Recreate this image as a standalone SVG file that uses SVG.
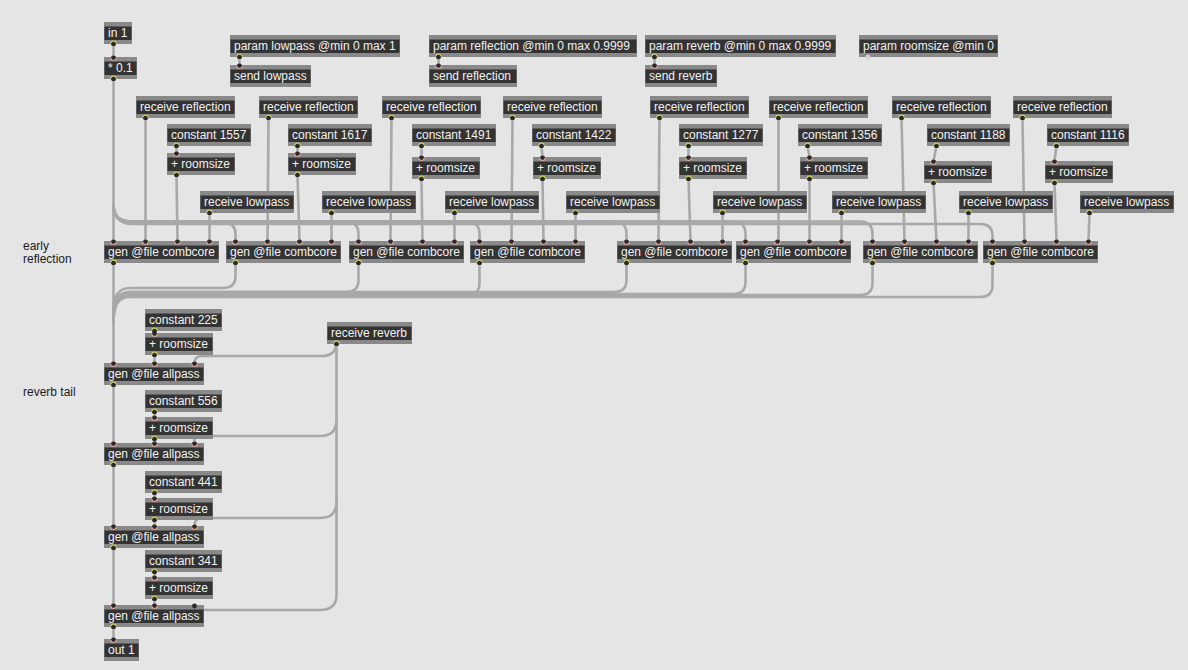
<svg xmlns="http://www.w3.org/2000/svg" width="1188" height="670" viewBox="0 0 1188 670">
<style>
text{font-family:"Liberation Sans",Arial,sans-serif;font-size:12px}
.f{fill:#898989}
.d{fill:#333}
.n text{fill:#f2f2f2}
.l{fill:#1c1c1c}
#wires path{fill:none;stroke:#a8a8a8;stroke-width:2.6;stroke-linecap:round}
</style>
<defs>
<g id="o"><circle r="2.600" fill="#2a2a2a"/><path d="M-2.700,0.300A2.700,2.700 0 0 1 2.700,0.300" fill="none" stroke="#c9cc55" stroke-width="1.100"/></g>
<g id="i"><circle r="2.600" fill="#2a2a2a"/><path d="M-2.700,-0.300A2.700,2.700 0 0 0 2.700,-0.300" fill="none" stroke="#e8a595" stroke-width="1.100"/></g>
</defs>
<rect width="1188" height="670" fill="#e5e5e5"/>
<g id="wires">
<path d="M113.5,44V58"/>
<path d="M239.5,57V66"/><path d="M438.5,57V66"/><path d="M654.5,57V66"/>
<path d="M113.5,79V241"/>
<path d="M113.5,205C113.5,217 120,223 132,223H224Q235.5,223 235.5,234V241"/>
<path d="M113.5,205C113.5,217 120,222 132,222H347Q358.5,222 358.5,234V241"/>
<path d="M113.5,205C113.5,217 120,222 132,222H468Q479.5,222 479.5,234V241"/>
<path d="M113.5,205C113.5,217 120,221.5 132,221.5H614Q626.5,221.5 626.5,234V241"/>
<path d="M113.5,205C113.5,217 120,221.5 132,221.5H733Q745.5,221.5 745.5,234V241"/>
<path d="M113.5,205C113.5,217 120,221.5 132,221.5H860Q872.5,221.5 872.5,234V241"/>
<path d="M113.5,205C113.5,217 120,224 132,224H980Q992.5,224 992.5,236V241"/>
<path d="M113.5,263V363"/>
<path d="M235.5,263V276Q235.5,288 223,288H130C118,288 113.5,296 113.5,312"/>
<path d="M358.5,263V280Q358.5,292 346,292H130C118,292 113.5,300 113.5,316"/>
<path d="M479.5,263V283Q479.5,295 467,295H130C118,295 113.5,302 113.5,320"/>
<path d="M626.5,263V280Q626.5,292 614,292H130C118,292 113.5,300 113.5,318"/>
<path d="M745.5,263V282Q745.5,294 733,294H130C118,294 113.5,302 113.5,320"/>
<path d="M872.5,263V283Q872.5,295 860,295H130C118,295 113.5,303 113.5,322"/>
<path d="M992.5,263V285Q992.5,297 980,297H130C118,297 113.5,305 113.5,324"/>
<path d="M145.5,118V241"/><path d="M268.5,118L267.5,241"/><path d="M391.5,118L390.5,241"/><path d="M512.5,118L511.5,241"/><path d="M659.5,118L658.5,241"/><path d="M778.5,118V241"/><path d="M901.5,118L904.5,241"/><path d="M1022.5,118L1024.5,241"/>
<path d="M176.5,146V153"/><path d="M297.5,146V153"/><path d="M421.5,146V157"/><path d="M541.5,146L542.5,157"/><path d="M688.5,146V157"/><path d="M807.5,146L809.5,157"/><path d="M936.5,146L933.5,161"/><path d="M1056.5,146L1054.5,161"/>
<path d="M176.5,175L177.5,241"/><path d="M297.5,175L299.5,241"/><path d="M421.5,179L422.5,241"/><path d="M542.5,179L543.5,241"/><path d="M688.5,179L690.5,241"/><path d="M809.5,179V241"/><path d="M933.5,183L936.5,241"/><path d="M1054.5,183L1056.5,241"/>
<path d="M209.5,213V241"/><path d="M331.5,213V241"/><path d="M454.5,213V241"/><path d="M575.5,213V241"/><path d="M722.5,213V241"/><path d="M841.5,213V241"/><path d="M968.5,213V241"/><path d="M1089.5,213L1088.5,241"/>
<path d="M154.5,331V333"/><path d="M154.5,355V363"/>
<path d="M154.5,412V417"/><path d="M154.5,439V443"/>
<path d="M154.5,493V498"/><path d="M154.5,520V526"/>
<path d="M154.5,572V577"/><path d="M154.5,599V605"/>
<path d="M113.5,385V443"/><path d="M113.5,465V526"/><path d="M113.5,548V605"/><path d="M113.5,627V639"/>
<path d="M336.5,344V595Q336.5,610 320,610H205"/>
<path d="M336.5,344Q335,356 322,356H202Q194.5,356 194.5,363"/>
<path d="M336.5,420Q336.5,436 320,436H194.5V443"/>
<path d="M336.5,502Q336.5,518 320,518H202Q194.5,518 194.5,526"/>
</g>
<g id="nodes" class="n">
<g id="in1"><rect class="f" x="104" y="22" width="28" height="22"/><rect class="d" x="104.500" y="26.500" width="27" height="13.500"/><text x="108" y="37">in 1</text></g>
<g id="mul"><rect class="f" x="104" y="57" width="33" height="22"/><rect class="d" x="104.500" y="61.500" width="32" height="13.500"/><text x="108" y="72">* 0.1</text></g>
<g id="plow"><rect class="f" x="230" y="35" width="170" height="22"/><rect class="d" x="230.500" y="39.500" width="169" height="13.500"/><text x="234" y="50">param lowpass @min 0 max 1</text></g>
<g id="slow"><rect class="f" x="230" y="65" width="81" height="22"/><rect class="d" x="230.500" y="69.500" width="80" height="13.500"/><text x="234" y="80">send lowpass</text></g>
<g id="pref"><rect class="f" x="429" y="35" width="208" height="22"/><rect class="d" x="429.500" y="39.500" width="207" height="13.500"/><text x="433" y="50">param reflection @min 0 max 0.9999</text></g>
<g id="sref"><rect class="f" x="429" y="65" width="88" height="22"/><rect class="d" x="429.500" y="69.500" width="87" height="13.500"/><text x="433" y="80">send reflection</text></g>
<g id="prev"><rect class="f" x="645" y="35" width="191" height="22"/><rect class="d" x="645.500" y="39.500" width="190" height="13.500"/><text x="649" y="50">param reverb @min 0 max 0.9999</text></g>
<g id="srev"><rect class="f" x="645" y="65" width="72" height="22"/><rect class="d" x="645.500" y="69.500" width="71" height="13.500"/><text x="649" y="80">send reverb</text></g>
<g id="proom"><rect class="f" x="859" y="35" width="139" height="22"/><rect class="d" x="859.500" y="39.500" width="138" height="13.500"/><text x="863" y="50">param roomsize @min 0</text></g>
<g id="rr1"><rect class="f" x="136" y="96" width="99" height="22"/><rect class="d" x="136.500" y="100.500" width="98" height="13.500"/><text x="140" y="111">receive reflection</text></g>
<g id="rr2"><rect class="f" x="259" y="96" width="99" height="22"/><rect class="d" x="259.500" y="100.500" width="98" height="13.500"/><text x="263" y="111">receive reflection</text></g>
<g id="rr3"><rect class="f" x="382" y="96" width="99" height="22"/><rect class="d" x="382.500" y="100.500" width="98" height="13.500"/><text x="386" y="111">receive reflection</text></g>
<g id="rr4"><rect class="f" x="503" y="96" width="99" height="22"/><rect class="d" x="503.500" y="100.500" width="98" height="13.500"/><text x="507" y="111">receive reflection</text></g>
<g id="rr5"><rect class="f" x="650" y="96" width="99" height="22"/><rect class="d" x="650.500" y="100.500" width="98" height="13.500"/><text x="654" y="111">receive reflection</text></g>
<g id="rr6"><rect class="f" x="769" y="96" width="99" height="22"/><rect class="d" x="769.500" y="100.500" width="98" height="13.500"/><text x="773" y="111">receive reflection</text></g>
<g id="rr7"><rect class="f" x="892" y="96" width="99" height="22"/><rect class="d" x="892.500" y="100.500" width="98" height="13.500"/><text x="896" y="111">receive reflection</text></g>
<g id="rr8"><rect class="f" x="1013" y="96" width="99" height="22"/><rect class="d" x="1013.500" y="100.500" width="98" height="13.500"/><text x="1017" y="111">receive reflection</text></g>
<g id="c1"><rect class="f" x="167" y="124" width="84" height="22"/><rect class="d" x="167.500" y="128.500" width="83" height="13.500"/><text x="171" y="139">constant 1557</text></g>
<g id="c2"><rect class="f" x="288" y="124" width="84" height="22"/><rect class="d" x="288.500" y="128.500" width="83" height="13.500"/><text x="292" y="139">constant 1617</text></g>
<g id="c3"><rect class="f" x="412" y="124" width="84" height="22"/><rect class="d" x="412.500" y="128.500" width="83" height="13.500"/><text x="416" y="139">constant 1491</text></g>
<g id="c4"><rect class="f" x="532" y="124" width="84" height="22"/><rect class="d" x="532.500" y="128.500" width="83" height="13.500"/><text x="536" y="139">constant 1422</text></g>
<g id="c5"><rect class="f" x="679" y="124" width="84" height="22"/><rect class="d" x="679.500" y="128.500" width="83" height="13.500"/><text x="683" y="139">constant 1277</text></g>
<g id="c6"><rect class="f" x="798" y="124" width="84" height="22"/><rect class="d" x="798.500" y="128.500" width="83" height="13.500"/><text x="802" y="139">constant 1356</text></g>
<g id="c7"><rect class="f" x="927" y="124" width="83" height="22"/><rect class="d" x="927.500" y="128.500" width="82" height="13.500"/><text x="931" y="139">constant 1188</text></g>
<g id="c8"><rect class="f" x="1047" y="124" width="82" height="22"/><rect class="d" x="1047.500" y="128.500" width="81" height="13.500"/><text x="1051" y="139">constant 1116</text></g>
<g id="a1"><rect class="f" x="167" y="153" width="68" height="22"/><rect class="d" x="167.500" y="157.500" width="67" height="13.500"/><text x="171" y="168">+ roomsize</text></g>
<g id="a2"><rect class="f" x="288" y="153" width="68" height="22"/><rect class="d" x="288.500" y="157.500" width="67" height="13.500"/><text x="292" y="168">+ roomsize</text></g>
<g id="a3"><rect class="f" x="412" y="157" width="68" height="22"/><rect class="d" x="412.500" y="161.500" width="67" height="13.500"/><text x="416" y="172">+ roomsize</text></g>
<g id="a4"><rect class="f" x="533" y="157" width="68" height="22"/><rect class="d" x="533.500" y="161.500" width="67" height="13.500"/><text x="537" y="172">+ roomsize</text></g>
<g id="a5"><rect class="f" x="679" y="157" width="68" height="22"/><rect class="d" x="679.500" y="161.500" width="67" height="13.500"/><text x="683" y="172">+ roomsize</text></g>
<g id="a6"><rect class="f" x="800" y="157" width="68" height="22"/><rect class="d" x="800.500" y="161.500" width="67" height="13.500"/><text x="804" y="172">+ roomsize</text></g>
<g id="a7"><rect class="f" x="924" y="161" width="68" height="22"/><rect class="d" x="924.500" y="165.500" width="67" height="13.500"/><text x="928" y="176">+ roomsize</text></g>
<g id="a8"><rect class="f" x="1045" y="161" width="68" height="22"/><rect class="d" x="1045.500" y="165.500" width="67" height="13.500"/><text x="1049" y="176">+ roomsize</text></g>
<g id="rl1"><rect class="f" x="200" y="191" width="94" height="22"/><rect class="d" x="200.500" y="195.500" width="93" height="13.500"/><text x="204" y="206">receive lowpass</text></g>
<g id="rl2"><rect class="f" x="322" y="191" width="94" height="22"/><rect class="d" x="322.500" y="195.500" width="93" height="13.500"/><text x="326" y="206">receive lowpass</text></g>
<g id="rl3"><rect class="f" x="445" y="191" width="94" height="22"/><rect class="d" x="445.500" y="195.500" width="93" height="13.500"/><text x="449" y="206">receive lowpass</text></g>
<g id="rl4"><rect class="f" x="566" y="191" width="94" height="22"/><rect class="d" x="566.500" y="195.500" width="93" height="13.500"/><text x="570" y="206">receive lowpass</text></g>
<g id="rl5"><rect class="f" x="713" y="191" width="94" height="22"/><rect class="d" x="713.500" y="195.500" width="93" height="13.500"/><text x="717" y="206">receive lowpass</text></g>
<g id="rl6"><rect class="f" x="832" y="191" width="94" height="22"/><rect class="d" x="832.500" y="195.500" width="93" height="13.500"/><text x="836" y="206">receive lowpass</text></g>
<g id="rl7"><rect class="f" x="959" y="191" width="94" height="22"/><rect class="d" x="959.500" y="195.500" width="93" height="13.500"/><text x="963" y="206">receive lowpass</text></g>
<g id="rl8"><rect class="f" x="1080" y="191" width="94" height="22"/><rect class="d" x="1080.500" y="195.500" width="93" height="13.500"/><text x="1084" y="206">receive lowpass</text></g>
<g id="g1"><rect class="f" x="104" y="241" width="115" height="22"/><rect class="d" x="104.500" y="245.500" width="114" height="13.500"/><text x="108" y="256">gen @file combcore</text></g>
<g id="g2"><rect class="f" x="226" y="241" width="115" height="22"/><rect class="d" x="226.500" y="245.500" width="114" height="13.500"/><text x="230" y="256">gen @file combcore</text></g>
<g id="g3"><rect class="f" x="349" y="241" width="115" height="22"/><rect class="d" x="349.500" y="245.500" width="114" height="13.500"/><text x="353" y="256">gen @file combcore</text></g>
<g id="g4"><rect class="f" x="470" y="241" width="115" height="22"/><rect class="d" x="470.500" y="245.500" width="114" height="13.500"/><text x="474" y="256">gen @file combcore</text></g>
<g id="g5"><rect class="f" x="617" y="241" width="115" height="22"/><rect class="d" x="617.500" y="245.500" width="114" height="13.500"/><text x="621" y="256">gen @file combcore</text></g>
<g id="g6"><rect class="f" x="736" y="241" width="115" height="22"/><rect class="d" x="736.500" y="245.500" width="114" height="13.500"/><text x="740" y="256">gen @file combcore</text></g>
<g id="g7"><rect class="f" x="863" y="241" width="115" height="22"/><rect class="d" x="863.500" y="245.500" width="114" height="13.500"/><text x="867" y="256">gen @file combcore</text></g>
<g id="g8"><rect class="f" x="983" y="241" width="115" height="22"/><rect class="d" x="983.500" y="245.500" width="114" height="13.500"/><text x="987" y="256">gen @file combcore</text></g>
<g id="k1"><rect class="f" x="145" y="309" width="77" height="22"/><rect class="d" x="145.500" y="313.500" width="76" height="13.500"/><text x="149" y="324">constant 225</text></g>
<g id="p1"><rect class="f" x="145" y="333" width="68" height="22"/><rect class="d" x="145.500" y="337.500" width="67" height="13.500"/><text x="149" y="348">+ roomsize</text></g>
<g id="rrev"><rect class="f" x="327" y="322" width="85" height="22"/><rect class="d" x="327.500" y="326.500" width="84" height="13.500"/><text x="331" y="337">receive reverb</text></g>
<g id="ap1"><rect class="f" x="104" y="363" width="100" height="22"/><rect class="d" x="104.500" y="367.500" width="99" height="13.500"/><text x="108" y="378">gen @file allpass</text></g>
<g id="k2"><rect class="f" x="145" y="390" width="77" height="22"/><rect class="d" x="145.500" y="394.500" width="76" height="13.500"/><text x="149" y="405">constant 556</text></g>
<g id="p2"><rect class="f" x="145" y="417" width="68" height="22"/><rect class="d" x="145.500" y="421.500" width="67" height="13.500"/><text x="149" y="432">+ roomsize</text></g>
<g id="ap2"><rect class="f" x="104" y="443" width="100" height="22"/><rect class="d" x="104.500" y="447.500" width="99" height="13.500"/><text x="108" y="458">gen @file allpass</text></g>
<g id="k3"><rect class="f" x="145" y="471" width="77" height="22"/><rect class="d" x="145.500" y="475.500" width="76" height="13.500"/><text x="149" y="486">constant 441</text></g>
<g id="p3"><rect class="f" x="145" y="498" width="68" height="22"/><rect class="d" x="145.500" y="502.500" width="67" height="13.500"/><text x="149" y="513">+ roomsize</text></g>
<g id="ap3"><rect class="f" x="104" y="526" width="100" height="22"/><rect class="d" x="104.500" y="530.500" width="99" height="13.500"/><text x="108" y="541">gen @file allpass</text></g>
<g id="k4"><rect class="f" x="145" y="550" width="77" height="22"/><rect class="d" x="145.500" y="554.500" width="76" height="13.500"/><text x="149" y="565">constant 341</text></g>
<g id="p4"><rect class="f" x="145" y="577" width="68" height="22"/><rect class="d" x="145.500" y="581.500" width="67" height="13.500"/><text x="149" y="592">+ roomsize</text></g>
<g id="ap4"><rect class="f" x="104" y="605" width="100" height="22"/><rect class="d" x="104.500" y="609.500" width="99" height="13.500"/><text x="108" y="620">gen @file allpass</text></g>
<g id="out1"><rect class="f" x="104" y="639" width="35" height="22"/><rect class="d" x="104.500" y="643.500" width="34" height="13.500"/><text x="108" y="654">out 1</text></g>
</g>
<g id="ports">
<use href="#o" x="113.500" y="43.500"/><use href="#i" x="113.500" y="58"/><use href="#o" x="113.500" y="78.500"/>
<use href="#o" x="239.500" y="56.500"/><use href="#i" x="239.500" y="66"/><use href="#o" x="438.500" y="56.500"/><use href="#i" x="438.500" y="66"/><use href="#o" x="654.500" y="56.500"/><use href="#i" x="654.500" y="66"/>
<circle cx="868" cy="57" r="2.500" fill="#d2d2d2"/>
<use href="#o" x="145.500" y="117.500"/><use href="#o" x="268.500" y="117.500"/><use href="#o" x="391.500" y="117.500"/><use href="#o" x="512.500" y="117.500"/><use href="#o" x="659.500" y="117.500"/><use href="#o" x="778.500" y="117.500"/><use href="#o" x="901.500" y="117.500"/><use href="#o" x="1022.500" y="117.500"/>
<use href="#o" x="176.500" y="145.500"/><use href="#o" x="297.500" y="145.500"/><use href="#o" x="421.500" y="145.500"/><use href="#o" x="541.500" y="145.500"/><use href="#o" x="688.500" y="145.500"/><use href="#o" x="807.500" y="145.500"/><use href="#o" x="936.500" y="145.500"/><use href="#o" x="1056.500" y="145.500"/>
<use href="#i" x="176.500" y="154"/><use href="#i" x="297.500" y="154"/><use href="#i" x="421.500" y="158"/><use href="#i" x="542.500" y="158"/><use href="#i" x="688.500" y="158"/><use href="#i" x="809.500" y="158"/><use href="#i" x="933.500" y="162"/><use href="#i" x="1054.500" y="162"/>
<use href="#o" x="176.500" y="174.500"/><use href="#o" x="297.500" y="174.500"/><use href="#o" x="421.500" y="178.500"/><use href="#o" x="542.500" y="178.500"/><use href="#o" x="688.500" y="178.500"/><use href="#o" x="809.500" y="178.500"/><use href="#o" x="933.500" y="182.500"/><use href="#o" x="1054.500" y="182.500"/>
<use href="#o" x="209.500" y="212.500"/><use href="#o" x="331.500" y="212.500"/><use href="#o" x="454.500" y="212.500"/><use href="#o" x="575.500" y="212.500"/><use href="#o" x="722.500" y="212.500"/><use href="#o" x="841.500" y="212.500"/><use href="#o" x="968.500" y="212.500"/><use href="#o" x="1089.500" y="212.500"/>
<use href="#i" x="113.500" y="242"/><use href="#i" x="145.500" y="242"/><use href="#i" x="177.500" y="242"/><use href="#i" x="209.500" y="242"/>
<use href="#i" x="235.500" y="242"/><use href="#i" x="267.500" y="242"/><use href="#i" x="299.500" y="242"/><use href="#i" x="331.500" y="242"/>
<use href="#i" x="358.500" y="242"/><use href="#i" x="390.500" y="242"/><use href="#i" x="422.500" y="242"/><use href="#i" x="454.500" y="242"/>
<use href="#i" x="479.500" y="242"/><use href="#i" x="511.500" y="242"/><use href="#i" x="543.500" y="242"/><use href="#i" x="575.500" y="242"/>
<use href="#i" x="626.500" y="242"/><use href="#i" x="658.500" y="242"/><use href="#i" x="690.500" y="242"/><use href="#i" x="722.500" y="242"/>
<use href="#i" x="745.500" y="242"/><use href="#i" x="777.500" y="242"/><use href="#i" x="809.500" y="242"/><use href="#i" x="841.500" y="242"/>
<use href="#i" x="872.500" y="242"/><use href="#i" x="904.500" y="242"/><use href="#i" x="936.500" y="242"/><use href="#i" x="968.500" y="242"/>
<use href="#i" x="992.500" y="242"/><use href="#i" x="1024.500" y="242"/><use href="#i" x="1056.500" y="242"/><use href="#i" x="1088.500" y="242"/>
<use href="#o" x="113.500" y="262.500"/><use href="#o" x="235.500" y="262.500"/><use href="#o" x="358.500" y="262.500"/><use href="#o" x="479.500" y="262.500"/><use href="#o" x="626.500" y="262.500"/><use href="#o" x="745.500" y="262.500"/><use href="#o" x="872.500" y="262.500"/><use href="#o" x="992.500" y="262.500"/>
<use href="#o" x="154.500" y="330.500"/><use href="#i" x="154.500" y="334"/><use href="#o" x="154.500" y="354.500"/><use href="#o" x="336.500" y="343.500"/>
<use href="#i" x="113.500" y="364"/><use href="#i" x="154.500" y="364"/><use href="#i" x="194.500" y="364"/><use href="#o" x="113.500" y="384.500"/>
<use href="#o" x="154.500" y="411.500"/><use href="#i" x="154.500" y="418"/><use href="#o" x="154.500" y="438.500"/>
<use href="#i" x="113.500" y="444"/><use href="#i" x="154.500" y="444"/><use href="#i" x="194.500" y="444"/><use href="#o" x="113.500" y="464.500"/>
<use href="#o" x="154.500" y="492.500"/><use href="#i" x="154.500" y="499"/><use href="#o" x="154.500" y="519.500"/>
<use href="#i" x="113.500" y="527"/><use href="#i" x="154.500" y="527"/><use href="#i" x="194.500" y="527"/><use href="#o" x="113.500" y="547.500"/>
<use href="#o" x="154.500" y="571.500"/><use href="#i" x="154.500" y="578"/><use href="#o" x="154.500" y="598.500"/>
<use href="#i" x="113.500" y="606"/><use href="#i" x="154.500" y="606"/><circle cx="194.500" cy="606" r="2.400" fill="#2a2a2a"/><use href="#o" x="113.500" y="626.500"/><use href="#i" x="113.500" y="640"/>
</g>
<g id="labels">
<text class="l" x="23" y="250">early</text>
<text class="l" x="23" y="263">reflection</text>
<text class="l" x="23" y="396">reverb tail</text>
</g>
</svg>
